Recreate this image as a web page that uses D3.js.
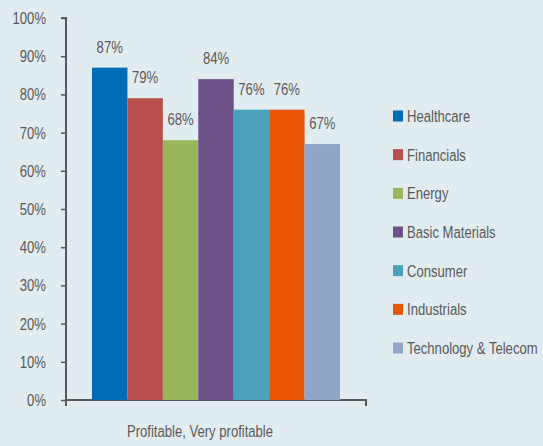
<!DOCTYPE html>
<html>
<head>
<meta charset="utf-8">
<script src="https://cdn.jsdelivr.net/npm/d3@7"></script>
<style>
    body { margin: 0; background: #e1ecf1; }
    svg { display: block; font-family: "Liberation Sans", Arial, sans-serif; }
</style>
</head>
<body>
<svg id="chart" width="543" height="446"></svg>
<script>
const categories = ["Healthcare", "Financials", "Energy", "Basic Materials", "Consumer", "Industrials", "Technology & Telecom"];
const values = [87, 79, 68, 84, 76, 76, 67];
const colors = ["#006cb8", "#b84f4c", "#9ab55a", "#6c5289", "#4ba3bb", "#e85505", "#90a6c9"];
const group = "Profitable, Very profitable";
const yTicks = [0, 10, 20, 30, 40, 50, 60, 70, 80, 90, 100];

const svg = d3.select("#chart");
const textColor = "#595959";
const fontSize = 17;
const squeeze = 0.77; // condensed look

// place a squeezed text at (x, y)
function label(parent, x, y, txt, anchor) {
    return parent.append("text")
        .attr("transform", `translate(${x},${y}) scale(${squeeze},1)`)
        .attr("text-anchor", anchor || "start")
        .attr("fill", textColor)
        .attr("font-size", fontSize)
        .text(txt);
}

const x0 = d3.scaleBand().domain([group]).range([66, 366]).paddingInner(0).paddingOuter(0.1048);
const x1 = d3.scaleBand().domain(categories).range([0, x0.bandwidth()]);
const y = d3.scaleLinear().domain([0, 100]).range([400, 18]);

// y axis
const yAxis = svg.append("g")
    .attr("transform", "translate(66,0)")
    .call(d3.axisLeft(y).tickValues(yTicks).tickFormat(d => d + "%").tickSize(5));
yAxis.select(".domain").attr("stroke", textColor).attr("stroke-width", 2).attr("d", "M-5,18H0V400");
yAxis.selectAll(".tick line").attr("stroke", textColor).attr("stroke-width", 1.5);
yAxis.selectAll(".tick text")
    .attr("fill", textColor)
    .attr("font-size", fontSize)
    .attr("font-family", "Liberation Sans, Arial, sans-serif")
    .attr("x", -20 / squeeze)
    .attr("transform", `scale(${squeeze},1)`);

// x axis line with end ticks
svg.append("path")
    .attr("d", "M66,406V400H366V406")
    .attr("fill", "none")
    .attr("stroke", textColor)
    .attr("stroke-width", 2);

label(svg, 200, 437, group, "middle");

// bars
const g = svg.append("g").attr("transform", `translate(${x0(group)},0)`);
g.selectAll("rect")
    .data(values)
    .join("rect")
    .attr("x", (d, i) => x1(categories[i]))
    .attr("y", d => y(d))
    .attr("width", x1.bandwidth())
    .attr("height", d => 400 - y(d))
    .attr("fill", (d, i) => colors[i]);

values.forEach((d, i) => {
    label(g, x1(categories[i]) + x1.bandwidth() / 2, y(d) - 15, d + "%", "middle");
});

// legend
const legend = svg.append("g");
const ly = d3.scalePoint().domain(categories).range([116, 348]);
categories.forEach((c, i) => {
    legend.append("rect")
        .attr("x", 393)
        .attr("y", ly(c) - 5.5)
        .attr("width", 10)
        .attr("height", 11)
        .attr("fill", colors[i]);
    label(legend, 407, ly(c) + 6, c);
});
</script>
</body>
</html>
